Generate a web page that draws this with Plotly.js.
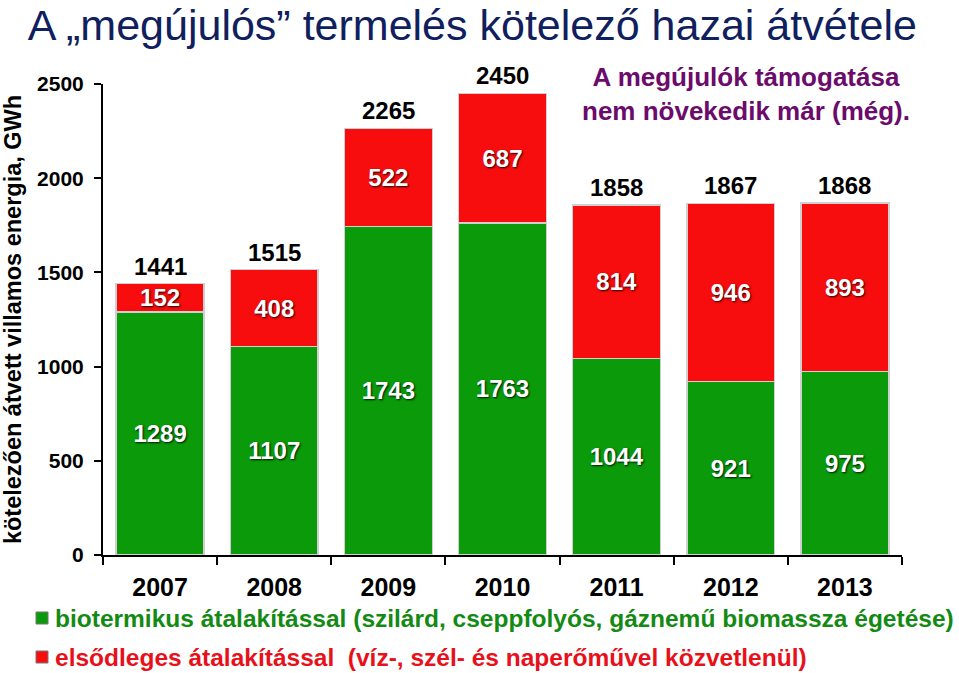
<!DOCTYPE html>
<html>
<head>
<meta charset="utf-8">
<script src="https://cdn.plot.ly/plotly-3.0.1.min.js"></script>
<style>html,body{margin:0;padding:0;background:#fff;}#chart{width:959px;height:673px;}</style>
</head>
<body>
<div id="chart"></div>
<script>
// Data
const years = ['2007', '2008', '2009', '2010', '2011', '2012', '2013'];
const biotermikus = [1289, 1107, 1743, 1763, 1044, 921, 975];   // green, bottom
const elsodleges = [152, 408, 522, 687, 814, 946, 893];          // red, top
const totals = [1441, 1515, 2265, 2450, 1858, 1867, 1868];
const yTicks = [0, 500, 1000, 1500, 2000, 2500];
const legendTexts = [
  'biotermikus átalakítással (szilárd, cseppfolyós, gáznemű biomassza égetése)',
  'elsődleges átalakítással&nbsp;&nbsp;(víz-, szél- és naperőművel közvetlenül)'
];

const FONT = 'Liberation Sans, Arial, sans-serif';
const GREEN = '#0a9a0a', RED = '#f70d0d';
const labelFont = {family: FONT, size: 24, color: '#ffffff', weight: 'bold', shadow: '1px 1px 2px rgba(0,0,0,0.85)'};

const traces = [
  {
    type: 'bar', x: years, y: biotermikus, name: 'biotermikus',
    marker: {color: GREEN, line: {color: '#d0d0d0', width: 1.5}},
    text: biotermikus.map(String), textposition: 'inside', insidetextanchor: 'middle',
    textfont: labelFont, constraintext: 'none'
  },
  {
    type: 'bar', x: years, y: elsodleges, name: 'elsődleges',
    marker: {color: RED, line: {color: '#d0d0d0', width: 1.5}},
    text: elsodleges.map(String), textposition: 'inside', insidetextanchor: 'middle',
    textfont: labelFont, constraintext: 'none'
  }
];

// total labels above the stacks (x given as category index)
const annotations = years.map((yr, i) => ({
  x: i, y: totals[i], xref: 'x', yref: 'y', text: String(totals[i]),
  showarrow: false, yanchor: 'bottom', yshift: 2,
  font: {family: FONT, size: 24, color: '#000', weight: 'bold'}
}));

annotations.push({
  xref: 'paper', yref: 'paper', x: 0.805, y: 1.05, xanchor: 'center', yanchor: 'top',
  text: 'A megújulók támogatása<br>nem növekedik már (még).', showarrow: false, align: 'center',
  font: {family: FONT, size: 26, color: '#6b0b6b', weight: 'bold'}
});

// legend texts
const legendColors = ['#138a13', '#e8101a'];
const legendY = [618, 657];
legendTexts.forEach((t, i) => {
  annotations.push({
    xref: 'paper', yref: 'paper', x: (53 - 103) / 799, y: (555 - legendY[i]) / 471,
    xanchor: 'left', yanchor: 'middle', text: t, showarrow: false,
    font: {family: FONT, size: 24.5, color: legendColors[i], weight: 'bold'}
  });
});

const shapes = [GREEN, RED].map((c, i) => ({
  type: 'rect', xref: 'paper', yref: 'paper',
  x0: (36 - 103) / 799, x1: (48 - 103) / 799,
  y0: (555 - legendY[i] - 6) / 471, y1: (555 - legendY[i] + 6) / 471,
  fillcolor: c, line: {color: '#777', width: 1}
}));

const layout = {
  width: 959, height: 673,
  margin: {l: 103, r: 57, t: 84, b: 118},
  paper_bgcolor: '#ffffff', plot_bgcolor: '#ffffff',
  barmode: 'stack', bargap: 0.23,
  showlegend: false,
  title: {
    text: 'A „megújulós” termelés kötelező hazai átvétele',
    x: 0.029, xanchor: 'left', xref: 'container', y: 0.985, yanchor: 'top', yref: 'container',
    font: {family: FONT, size: 43, color: '#10205e'}
  },
  xaxis: {
    type: 'category', range: [-0.5, years.length - 0.5], autorange: false,
    showline: true, linecolor: '#000', linewidth: 2,
    ticks: 'outside', ticklen: 8, tickwidth: 2, tickcolor: '#000', tickson: 'boundaries',
    ticklabelstandoff: 9,
    tickfont: {family: FONT, size: 25, color: '#000', weight: 'bold'},
    showgrid: false, zeroline: false, automargin: false
  },
  yaxis: {
    range: [0, 2500], autorange: false, tickvals: yTicks, ticktext: yTicks.map(String),
    showline: true, linecolor: '#000', linewidth: 2,
    ticks: 'outside', ticklen: 7, tickwidth: 2, tickcolor: '#000', ticklabelstandoff: 6,
    tickfont: {family: FONT, size: 21, color: '#000', weight: 'bold'},
    showgrid: false, zeroline: false, automargin: false,
    title: {text: 'kötelezően átvett villamos energia, GWh', standoff: 10,
      font: {family: FONT, size: 23.5, color: '#000', weight: 'bold'}}
  },
  annotations: annotations,
  shapes: shapes
};

Plotly.newPlot('chart', traces, layout, {displayModeBar: false, staticPlot: true});
</script>
</body>
</html>
